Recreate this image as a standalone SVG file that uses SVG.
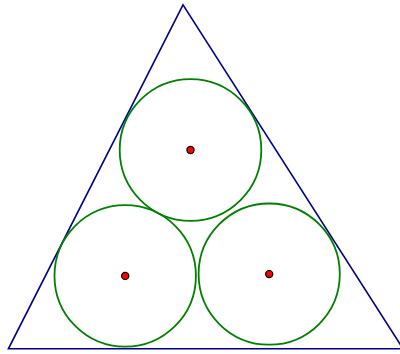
<svg xmlns="http://www.w3.org/2000/svg" width="400" height="354" viewBox="0 0 400 354">
<style>
.tri{fill:none;stroke:#000088;stroke-width:1.6;stroke-linejoin:miter}
.c{fill:none;stroke:#008000;stroke-width:1.8}
.d{fill:#ff0000;stroke:#000;stroke-width:1.2}
</style>
<rect width="400" height="354" fill="#fff"/>
<g id="triangle"><polygon class="tri" points="183,4.8 8.4,348.8 403,348.8"/></g>
<g id="circle-top"><circle class="c" cx="190.5" cy="150" r="70.8"/><circle class="d" cx="190.5" cy="150" r="3.6"/></g>
<g id="circle-left"><circle class="c" cx="125.2" cy="275.9" r="70.7"/><circle class="d" cx="125.2" cy="275.9" r="3.6"/></g>
<g id="circle-right"><circle class="c" cx="269.2" cy="274.1" r="70.6"/><circle class="d" cx="269.2" cy="274.1" r="3.6"/></g>
</svg>
